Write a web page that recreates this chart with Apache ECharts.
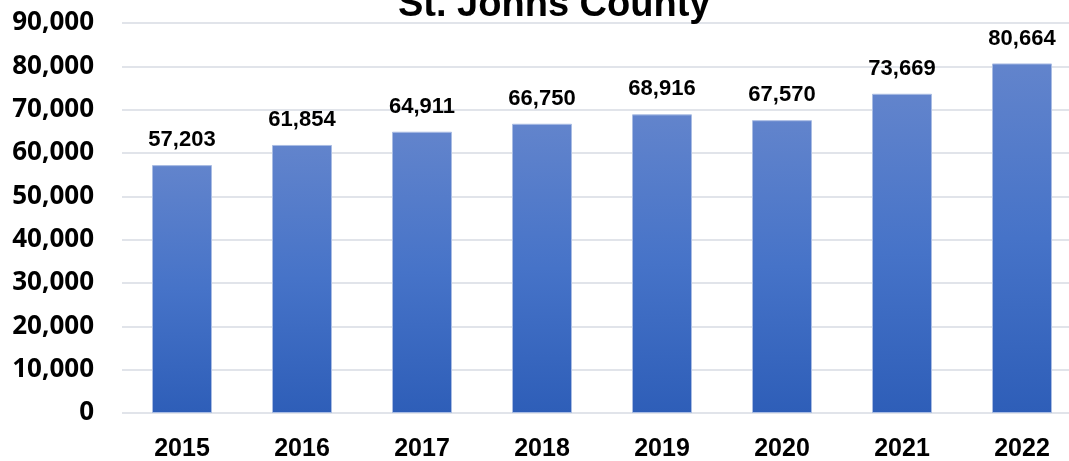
<!DOCTYPE html>
<html>
<head>
<meta charset="utf-8">
<style>
  html, body { margin: 0; padding: 0; background: #ffffff; overflow: hidden; }
  #chart { width: 1082px; height: 461px; }
</style>
<script src="https://cdn.jsdelivr.net/npm/echarts@6/dist/echarts.min.js"></script>
</head>
<body>
<div id="chart"></div>
<script>
// Annual figures for St. Johns County
const years = ['2015', '2016', '2017', '2018', '2019', '2020', '2021', '2022'];
const values = [57203, 61854, 64911, 66750, 68916, 67570, 73669, 80664];
const chartTitle = 'St. Johns County';

const SANS = '"Liberation Sans", Arial, sans-serif';
const ROUND = '"Open Sans", "Noto Sans", sans-serif';

const chart = echarts.init(document.getElementById('chart'), null, { renderer: 'canvas' });
chart.setOption({
  animation: false,
  backgroundColor: '#ffffff',
  title: {
    text: chartTitle,
    left: 393,
    top: -18,
    textStyle: { fontFamily: SANS, fontSize: 38, fontWeight: 'bold', color: '#000000' }
  },
  grid: { left: 122, right: 0, top: 23, bottom: 48, containLabel: false, outerBoundsMode: 'none' },
  xAxis: {
    type: 'category',
    data: years,
    axisLine: { show: false },
    axisTick: { show: false },
    axisLabel: { margin: 24, fontFamily: SANS, fontSize: 25, fontWeight: 'bold', color: '#000000' }
  },
  yAxis: {
    type: 'value',
    min: 0,
    max: 90000,
    interval: 10000,
    axisLine: { show: false },
    axisTick: { show: false },
    splitLine: { lineStyle: { color: '#e1e4ea', width: 2 } },
    axisLabel: {
      margin: 28,
      fontFamily: ROUND, fontSize: 26, fontWeight: 'bold', color: '#000000',
      formatter: v => v.toLocaleString('en-US')
    }
  },
  series: [{
    type: 'bar',
    data: values,
    barWidth: 60,
    itemStyle: {
      color: new echarts.graphic.LinearGradient(0, 0, 0, 1, [
        { offset: 0, color: '#6284cc' },
        { offset: 0.5, color: '#4673c8' },
        { offset: 1, color: '#2e5eb8' }
      ]),
      borderColor: '#a9bce3',
      borderWidth: 1
    },
    label: {
      show: true,
      position: 'top',
      distance: 14,
      fontFamily: SANS, fontSize: 22, fontWeight: 'bold', color: '#000000',
      formatter: p => p.value.toLocaleString('en-US')
    }
  }]
});
</script>
</body>
</html>
